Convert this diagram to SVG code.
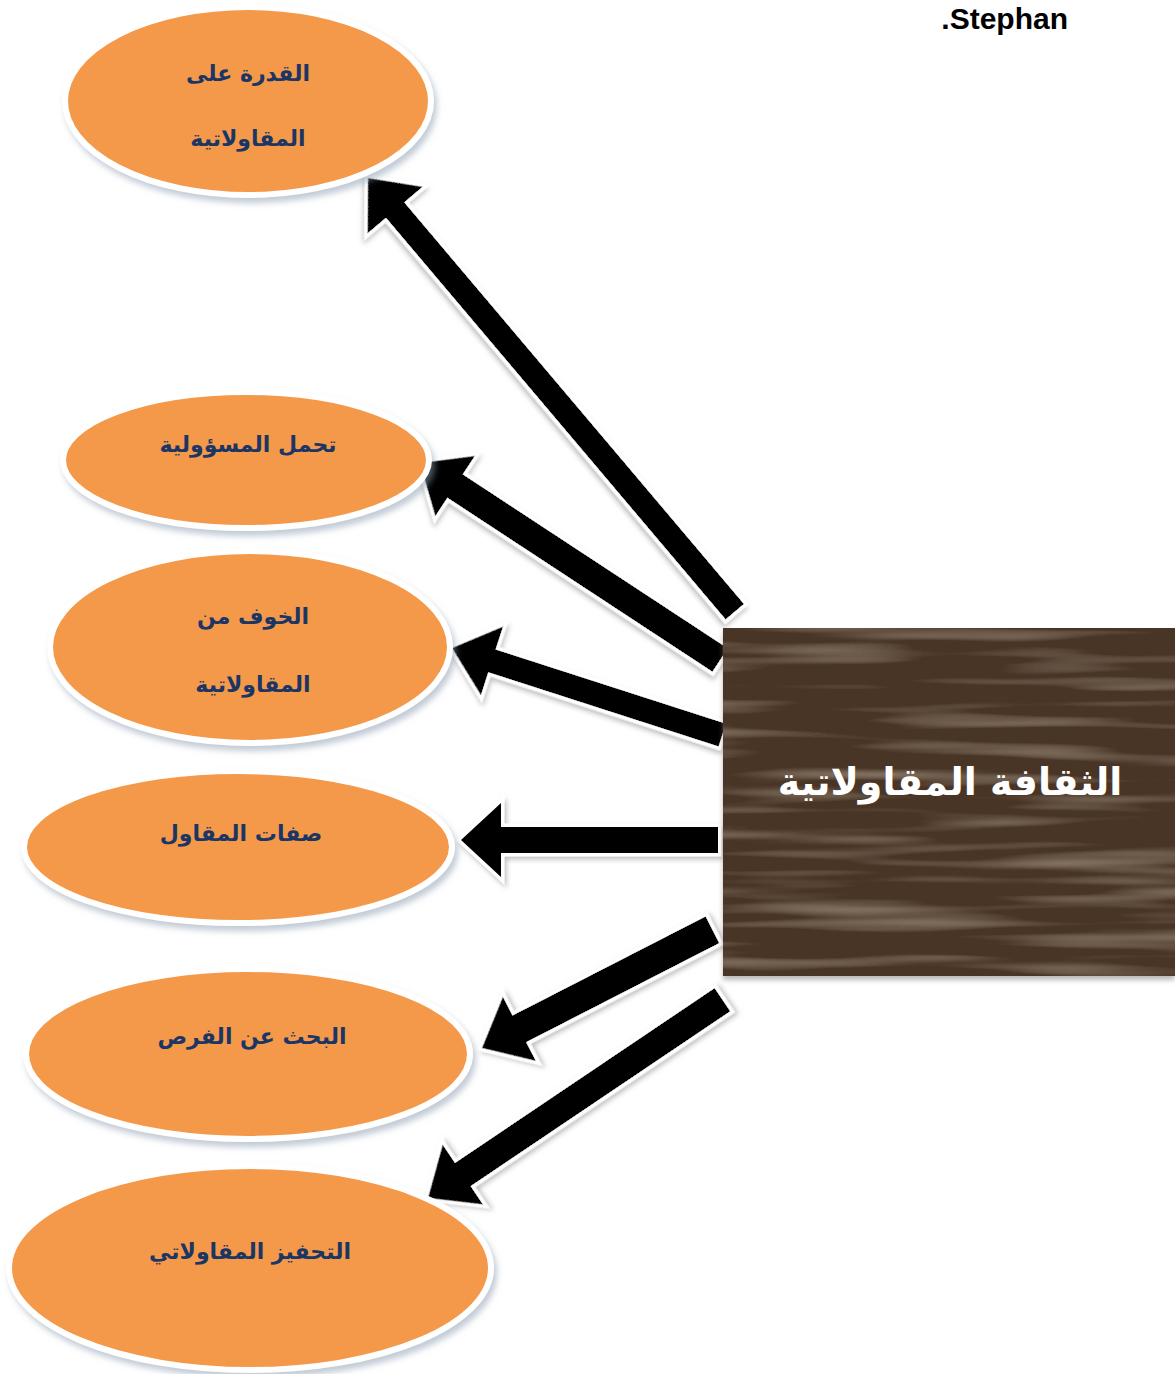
<svg xmlns="http://www.w3.org/2000/svg" width="1175" height="1374" viewBox="0 0 1175 1374">
<defs>
<style>
.node ellipse{fill:#f4994a;stroke:#ffffff;stroke-width:6;filter:url(#shadow)}
.lbl{font-family:"DejaVu Sans","Noto Sans",sans-serif;font-weight:bold;font-size:22px;fill:#1b3564;text-anchor:middle}
.arrow{fill:#000;stroke:#fff;stroke-width:7;stroke-linejoin:miter;paint-order:stroke;filter:url(#ashadow)}
</style>
<filter id="shadow" x="-10%" y="-10%" width="125%" height="130%">
<feDropShadow dx="3" dy="5" stdDeviation="3" flood-color="#8f9fb3" flood-opacity="0.55"/>
</filter>
<filter id="ashadow" x="-10%" y="-30%" width="125%" height="170%">
<feDropShadow dx="2" dy="3" stdDeviation="2.5" flood-color="#7f7f7f" flood-opacity="0.5"/>
</filter>
<filter id="wood" x="0" y="0" width="100%" height="100%">
<feTurbulence type="fractalNoise" baseFrequency="0.004 0.07" numOctaves="2" seed="11" result="n"/>
<feColorMatrix in="n" type="matrix" values="0 0 0 0 0.50  0 0 0 0 0.39  0 0 0 0 0.28  1.0 0 0 0 -0.5" result="c"/>
<feComposite in="c" in2="SourceGraphic" operator="atop"/>
</filter>
<filter id="boxshadow" x="-5%" y="-5%" width="110%" height="112%">
<feDropShadow dx="0" dy="4" stdDeviation="2.5" flood-color="#8a8a8a" flood-opacity="0.6"/>
</filter>
</defs>
<rect width="1175" height="1374" fill="#ffffff"/>

<text x="1068" y="29" font-family="Liberation Sans, Arial, sans-serif" font-weight="bold" font-size="30" text-anchor="end" fill="#000">.Stephan</text>

<g id="connectors">
<polygon class="arrow" transform="translate(368,178) rotate(49.78)" points="0,0 42,-36 42,-12 568,-12 568,12 42,12 42,36"/>
<polygon class="arrow" transform="translate(420,463) rotate(33.29)" points="0,0 42,-36 42,-14 359,-14 359,14 42,14 42,36"/>
<polygon class="arrow" transform="translate(452,648) rotate(17.86)" points="0,0 42,-36 42,-12 284,-12 284,12 42,12 42,36"/>
<polygon class="arrow" transform="translate(461,840) rotate(0)" points="0,0 40,-37 40,-13 257,-13 257,13 40,13 40,37"/>
<polygon class="arrow" transform="translate(482,1048) rotate(-27.16)" points="0,0 42,-36 42,-15 259,-15 259,15 42,15 42,36"/>
<polygon class="arrow" transform="translate(428,1198) rotate(-33.96)" points="0,0 42,-36 42,-14 355,-14 355,14 42,14 42,36"/>
</g>

<g id="center">
<rect x="723" y="628" width="452" height="348" fill="#ffffff" filter="url(#boxshadow)"/>
<rect x="723" y="628" width="452" height="348" fill="#4a3526" filter="url(#wood)"/>
<text x="950" y="795" font-family="DejaVu Sans, Noto Sans, sans-serif" font-weight="bold" font-size="38" text-anchor="middle" fill="#ffffff">الثقافة المقاولاتية</text>
</g>

<g id="n1" class="node">
<ellipse cx="248" cy="101" rx="183" ry="94"/>
<text class="lbl" x="248" y="81">القدرة على</text>
<text class="lbl" x="248" y="146">المقاولاتية</text>
</g>
<g id="n2" class="node">
<ellipse cx="246" cy="460" rx="183" ry="68"/>
<text class="lbl" x="248" y="452">تحمل المسؤولية</text>
</g>
<g id="n3" class="node">
<ellipse cx="250" cy="647" rx="200" ry="96"/>
<text class="lbl" x="253" y="624">الخوف من</text>
<text class="lbl" x="253" y="692">المقاولاتية</text>
</g>
<g id="n4" class="node">
<ellipse cx="238" cy="847" rx="214" ry="76"/>
<text class="lbl" x="241" y="841">صفات المقاول</text>
</g>
<g id="n5" class="node">
<ellipse cx="248" cy="1054" rx="222" ry="85"/>
<text class="lbl" x="252" y="1044">البحث عن الفرص</text>
</g>
<g id="n6" class="node">
<ellipse cx="250" cy="1268" rx="241" ry="102"/>
<text class="lbl" x="250" y="1259">التحفيز المقاولاتي</text>
</g>
</svg>
